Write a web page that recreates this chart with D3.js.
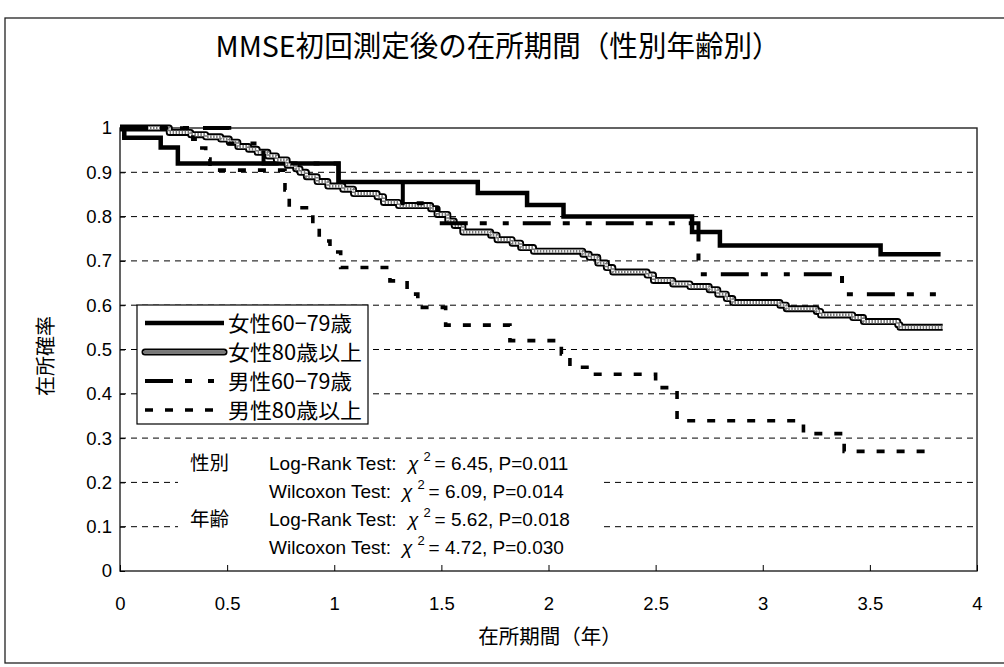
<!DOCTYPE html>
<html>
<head>
<meta charset="utf-8">
<script src="https://cdn.jsdelivr.net/npm/d3@7"></script>
<style>
  body { margin: 0; background: #fff; }
</style>
</head>
<body>
<div class="view1"></div>
<script>
//Values (time in years, survival probability)
const xTicks = [0, 0.5, 1, 1.5, 2, 2.5, 3, 3.5, 4];
const yTicks = [0, 0.1, 0.2, 0.3, 0.4, 0.5, 0.6, 0.7, 0.8, 0.9, 1];
const gridValues = [0.1, 0.2, 0.3, 0.4, 0.5, 0.6, 0.7, 0.8, 0.9];

const seriesNames = ["女性60−79歳", "女性80歳以上", "男性60−79歳", "男性80歳以上"];

//女性60-79歳
const femaleYoungTime = [0, 0.02, 0.19, 0.27, 1.02, 1.67, 1.90, 2.07, 2.67, 2.80, 3.55, 3.83];
const femaleYoungSurv = [1, 0.978, 0.956, 0.92, 0.878, 0.853, 0.826, 0.80, 0.765, 0.735, 0.715, 0.715];

//女性80歳以上
const femaleOldTime = [0, 0.23, 0.33, 0.40, 0.47, 0.51, 0.55, 0.60, 0.64, 0.69, 0.73, 0.78, 0.82, 0.84,
  0.87, 0.92, 0.97, 1.04, 1.09, 1.20, 1.23, 1.30, 1.45, 1.48, 1.53, 1.56, 1.60, 1.73, 1.76, 1.83, 1.87,
  1.93, 2.16, 2.19, 2.23, 2.27, 2.30, 2.46, 2.49, 2.58, 2.66, 2.75, 2.79, 2.83, 2.86, 3.08, 3.11, 3.25,
  3.27, 3.42, 3.47, 3.63, 3.64, 3.84];
const femaleOldSurv = [1, 0.99, 0.985, 0.98, 0.975, 0.968, 0.958, 0.952, 0.945, 0.937, 0.928, 0.916, 0.908, 0.90,
  0.89, 0.879, 0.869, 0.862, 0.852, 0.845, 0.832, 0.825, 0.818, 0.805, 0.79, 0.78, 0.765, 0.758, 0.748, 0.74, 0.73,
  0.722, 0.715, 0.708, 0.695, 0.685, 0.675, 0.668, 0.656, 0.648, 0.642, 0.635, 0.625, 0.615, 0.606, 0.60, 0.592, 0.586,
  0.578, 0.572, 0.563, 0.556, 0.55, 0.55];

//男性60-79歳
const maleYoungTime = [0, 0.51, 0.67, 1.02, 1.32, 1.48, 2.70, 3.37, 3.83];
const maleYoungSurv = [1, 0.965, 0.92, 0.878, 0.83, 0.785, 0.67, 0.625, 0.625];

//男性80歳以上
const maleOldTime = [0, 0.34, 0.37, 0.40, 0.42, 0.77, 0.79, 0.90, 0.93, 0.98, 1.03, 1.26, 1.34, 1.39,
  1.52, 1.82, 2.06, 2.10, 2.20, 2.50, 2.60, 3.19, 3.38, 3.80];
const maleOldSurv = [1, 0.975, 0.955, 0.93, 0.905, 0.86, 0.82, 0.78, 0.745, 0.72, 0.685, 0.655, 0.625, 0.595,
  0.555, 0.52, 0.49, 0.46, 0.444, 0.414, 0.339, 0.31, 0.27, 0.27];

//Test results printed inside the plot
const statGroups = ["性別", "", "年齢", ""];
const statTests = ["Log-Rank Test:", "Wilcoxon Test:", "Log-Rank Test:", "Wilcoxon Test:"];
const statChi = ["6.45", "6.09", "5.62", "4.72"];
const statP = ["0.011", "0.014", "0.018", "0.030"];

const cjkFont = "'Noto Sans CJK JP', 'Noto Sans', sans-serif";
const latinFont = "'Liberation Sans', Arial, sans-serif";

/** Kaplan-Meier style step chart */
class StayChart {
    constructor() {
        this.width = 1004;
        this.height = 667;
        //plot area box (pixels)
        this.plot = {left: 120, right: 977, top: 128, bottom: 571};

        this.xScale = d3.scaleLinear().domain([0, 4]).range([this.plot.left, this.plot.right]);
        this.yScale = d3.scaleLinear().domain([0, 1]).range([this.plot.bottom, this.plot.top]);

        //one entry per series, same order as seriesNames
        this.series = [
            {time: femaleYoungTime, surv: femaleYoungSurv},
            {time: femaleOldTime, surv: femaleOldSurv},
            {time: maleYoungTime, surv: maleYoungSurv},
            {time: maleOldTime, surv: maleOldSurv}
        ];
        //stroke layers for each series (textured line needs three)
        this.styles = [
            [{color: "#000", width: 4.5, dash: null}],
            [{color: "#000", width: 7, dash: null}, {color: "#fff", width: 3.2, dash: null},
             {color: "#777", width: 3.2, dash: "1.5,1.5"}],
            [{color: "#000", width: 4, dash: "28,12,7,16,6,14"}],
            [{color: "#000", width: 3.6, dash: "8,12"}]
        ];
    }

    drawFrame(svg) {
        //outer chart border
        svg.append("rect")
            .attr("x", 5).attr("y", 18)
            .attr("width", 1010).attr("height", 645)
            .attr("fill", "none").attr("stroke", "#222").attr("stroke-width", 1.3);

        svg.append("text")
            .attr("x", 498).attr("y", 57)
            .attr("text-anchor", "middle")
            .attr("font-family", cjkFont)
            .attr("font-size", 29)
            .attr("textLength", 565)
            .attr("lengthAdjust", "spacingAndGlyphs")
            .text("MMSE初回測定後の在所期間（性別年齢別）");

        //dashed gridlines
        svg.append("g").selectAll("line")
            .data(gridValues)
            .join("line")
            .attr("x1", this.plot.left).attr("x2", this.plot.right)
            .attr("y1", d => this.yScale(d)).attr("y2", d => this.yScale(d))
            .attr("stroke", "#000").attr("stroke-width", 1)
            .attr("stroke-dasharray", "6,5");

        svg.append("rect")
            .attr("x", this.plot.left).attr("y", this.plot.top)
            .attr("width", this.plot.right - this.plot.left)
            .attr("height", this.plot.bottom - this.plot.top)
            .attr("fill", "none").attr("stroke", "#222").attr("stroke-width", 1.4);

        //axes - ticks point into the plot like Excel
        let xAxis = d3.axisBottom(this.xScale)
            .tickValues(xTicks)
            .tickFormat(d3.format("~g"))
            .tickSizeInner(-6).tickSizeOuter(0).tickPadding(26);
        let gx = svg.append("g")
            .attr("transform", `translate(0,${this.plot.bottom})`)
            .call(xAxis);

        let yAxis = d3.axisLeft(this.yScale)
            .tickValues(yTicks)
            .tickFormat(d3.format("~g"))
            .tickSizeInner(-5).tickSizeOuter(0).tickPadding(8);
        let gy = svg.append("g")
            .attr("transform", `translate(${this.plot.left},0)`)
            .call(yAxis);

        [gx, gy].forEach(g => {
            g.select(".domain").remove();
            g.selectAll("line").attr("stroke", "#000");
            g.selectAll("text")
                .attr("font-family", latinFont)
                .attr("font-size", 18.5)
                .attr("fill", "#000");
        });

        svg.append("text")
            .attr("x", 550).attr("y", 644)
            .attr("text-anchor", "middle")
            .attr("font-family", cjkFont).attr("font-size", 20.5)
            .text("在所期間（年）");

        svg.append("text")
            .attr("transform", "translate(53,356) rotate(-90)")
            .attr("text-anchor", "middle")
            .attr("font-family", cjkFont).attr("font-size", 20)
            .text("在所確率");
    }

    drawCurves(svg) {
        let line = d3.line()
            .x(d => this.xScale(d[0]))
            .y(d => this.yScale(d[1]))
            .curve(d3.curveStepAfter);

        this.series.forEach((s, i) => {
            let pts = d3.zip(s.time, s.surv);
            this.styles[i].forEach(st => {
                svg.append("path")
                    .datum(pts)
                    .attr("d", line)
                    .attr("fill", "none")
                    .attr("stroke", st.color)
                    .attr("stroke-width", st.width)
                    .attr("stroke-dasharray", st.dash)
                    .attr("stroke-linejoin", i == 1 ? "round" : "miter");
            });
        });
    }

    drawLegend(svg) {
        let box = {x: 137, y: 305, w: 231, h: 119};
        let legend = svg.append("g");
        legend.append("rect")
            .attr("x", box.x).attr("y", box.y)
            .attr("width", box.w).attr("height", box.h)
            .attr("fill", "#fff").attr("stroke", "#000").attr("stroke-width", 1.2);

        seriesNames.forEach((name, i) => {
            let cy = 323 + i * 29;
            this.styles[i].forEach(st => {
                legend.append("line")
                    .attr("x1", 145).attr("x2", 224)
                    .attr("y1", cy).attr("y2", cy)
                    .attr("stroke", st.color)
                    .attr("stroke-width", st.width)
                    .attr("stroke-dasharray", st.dash)
                    .attr("stroke-linecap", i == 1 ? "round" : "butt");
            });
            legend.append("text")
                .attr("x", 228).attr("y", cy + 8)
                .attr("font-family", cjkFont).attr("font-size", 21)
                .attr("textLength", i % 2 == 0 ? 124 : 134)
                .attr("lengthAdjust", "spacingAndGlyphs")
                .text(name);
        });
    }

    drawStats(svg) {
        //white panel hides the gridlines behind the test results
        svg.append("rect")
            .attr("x", 178).attr("y", 447)
            .attr("width", 424).attr("height", 113)
            .attr("fill", "#fff");

        statTests.forEach((test, i) => {
            let base = 470 + i * 28;
            if (statGroups[i] != "") {
                svg.append("text")
                    .attr("x", 190).attr("y", base)
                    .attr("font-family", cjkFont).attr("font-size", 19.5)
                    .text(statGroups[i]);
            }
            svg.append("text")
                .attr("x", 269).attr("y", base)
                .attr("font-family", latinFont).attr("font-size", 19)
                .text(test);

            let t = svg.append("text")
                .attr("x", i % 2 == 0 ? 408 : 402).attr("y", base)
                .attr("font-family", latinFont).attr("font-size", 19);
            t.append("tspan").attr("font-style", "italic").text("χ");
            t.append("tspan").attr("dx", 5).attr("dy", -9).attr("font-size", 13).text("2");
            t.append("tspan").attr("dx", 4).attr("dy", 9).text(`= ${statChi[i]}, P=${statP[i]}`);
        });
    }

    draw() {
        let svg = d3.select(".view1").append("svg")
            .attr("width", this.width)
            .attr("height", this.height)
            .style("display", "block")
            .style("background", "#fff");

        this.drawFrame(svg);
        this.drawCurves(svg);
        this.drawLegend(svg);
        this.drawStats(svg);
    }
}

let chart = new StayChart();
chart.draw();
</script>
</body>
</html>
